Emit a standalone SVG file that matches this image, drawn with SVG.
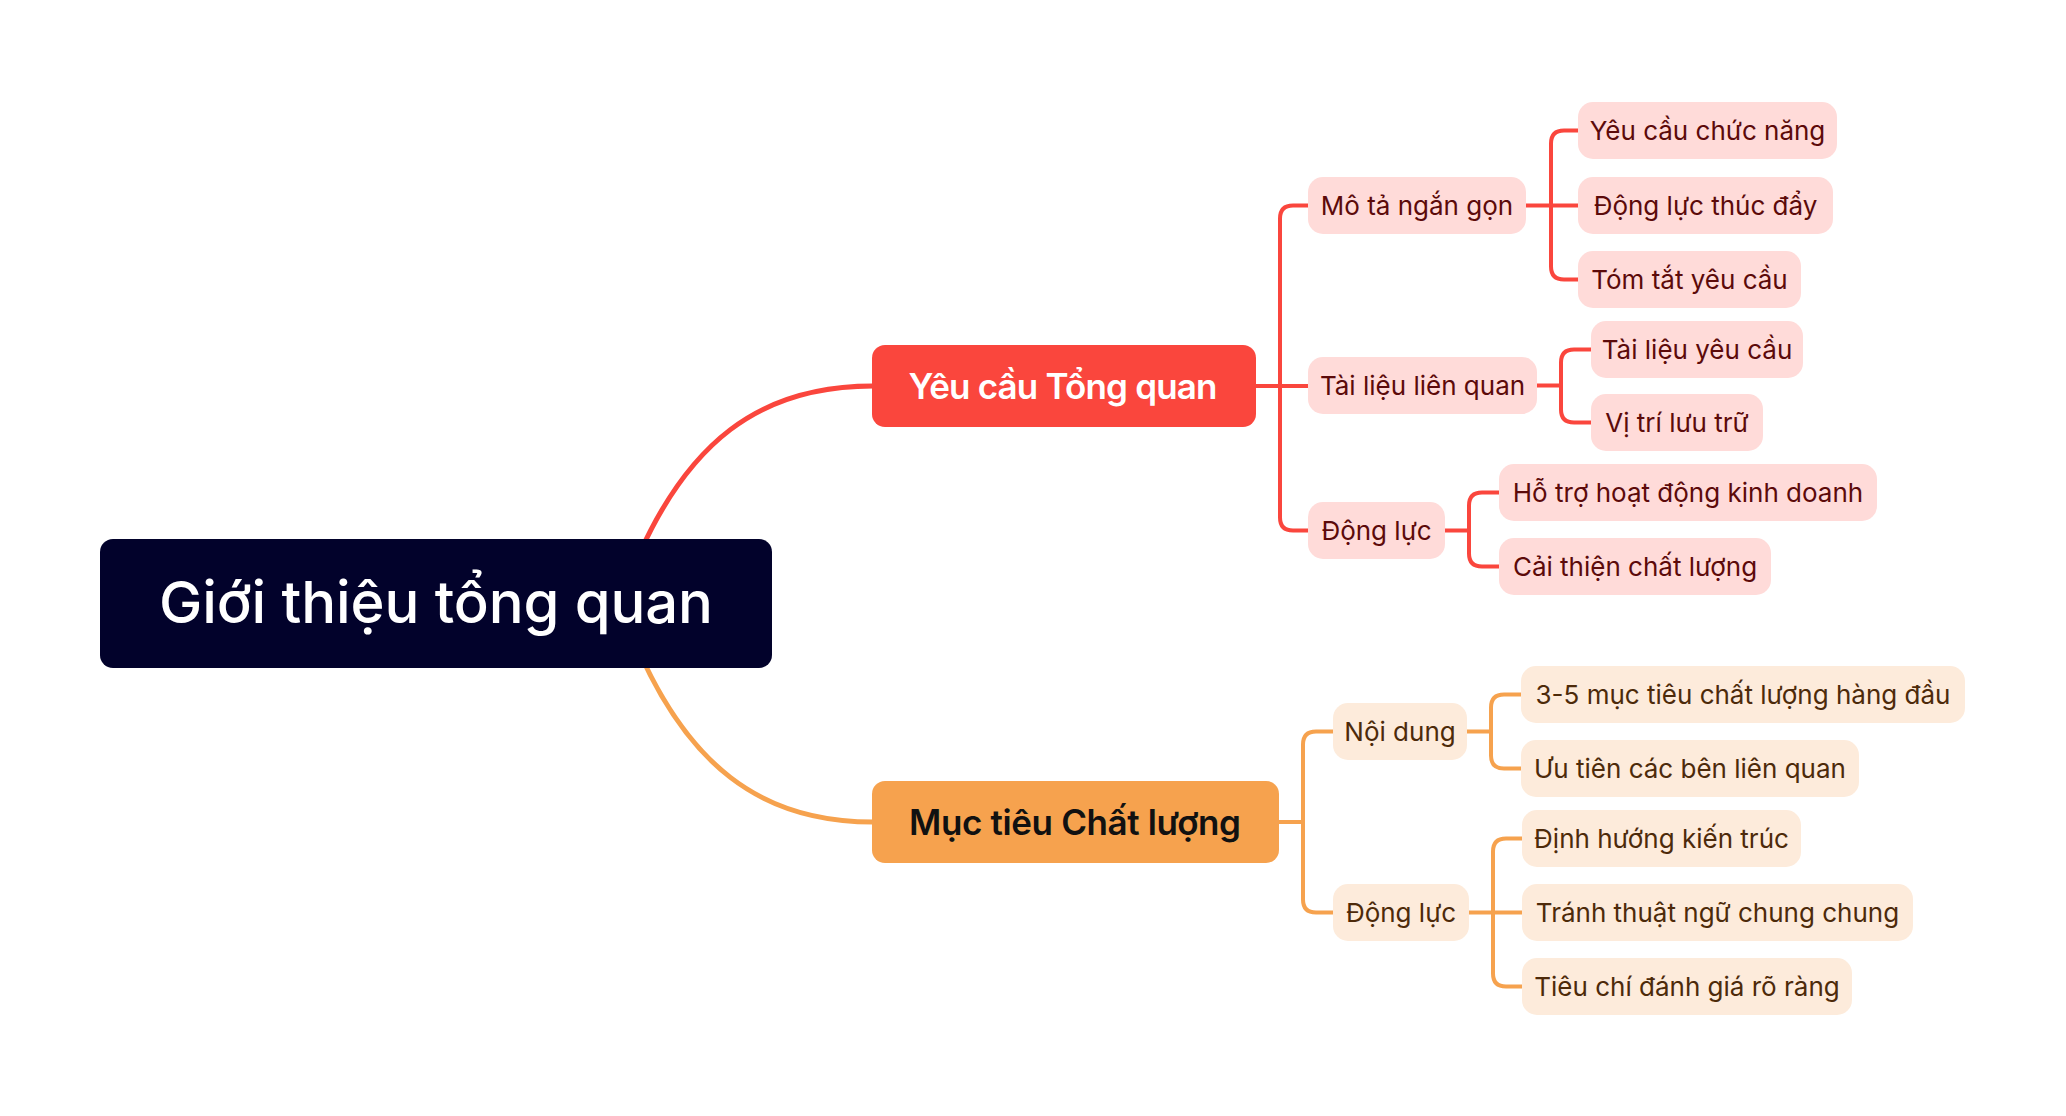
<svg xmlns="http://www.w3.org/2000/svg" width="2066" height="1116" viewBox="0 0 2066 1116">
<style>
text{font-family:Inter,"Noto Sans","Liberation Sans",sans-serif;text-anchor:middle}
.root rect{fill:#02022B}
.root text{fill:#fff;font-size:58px;font-weight:500}
.m1 rect{fill:#FA463D}
.m1 text{fill:#fff;font-size:35px;font-weight:600}
.m2 rect{fill:#F6A24E}
.m2 text{fill:#111;font-size:35px;font-weight:600}
.r rect{fill:#FFDBD9}
.r text{fill:#5C0A0A;font-size:26px}
.o rect{fill:#FDEBDB}
.o text{fill:#4D2A0A;font-size:26px}
.cr{fill:none;stroke:#FA463D;stroke-width:4;stroke-linecap:round}
.co{fill:none;stroke:#F6A24E;stroke-width:4;stroke-linecap:round}
.big{stroke-width:5}
</style>
<rect width="2066" height="1116" fill="#fff"/>
<g id="connectors">
<path class="cr big" d="M620 603 C680 430 770 386 873 386"/>
<path class="co big" d="M620 603 C680 776 770 822 873 822"/>
<path class="cr" d="M1256 386 H1308"/>
<path class="cr" d="M1308 205.5 H1293 Q1280 205.5 1280 218.5 V517.5 Q1280 530.5 1293 530.5 H1308"/>
<path class="cr" d="M1526 205.5 H1578"/>
<path class="cr" d="M1578 130.5 H1564 Q1551 130.5 1551 143.5 V266.5 Q1551 279.5 1564 279.5 H1578"/>
<path class="cr" d="M1537 385.5 H1561"/>
<path class="cr" d="M1591 349.5 H1574 Q1561 349.5 1561 362.5 V409.5 Q1561 422.5 1574 422.5 H1591"/>
<path class="cr" d="M1445 530.5 H1469"/>
<path class="cr" d="M1499 492.5 H1482 Q1469 492.5 1469 505.5 V553.5 Q1469 566.5 1482 566.5 H1499"/>
<path class="co" d="M1279 822 H1303"/>
<path class="co" d="M1333 731.5 H1316 Q1303 731.5 1303 744.5 V899.5 Q1303 912.5 1316 912.5 H1333"/>
<path class="co" d="M1467 731.5 H1491"/>
<path class="co" d="M1521 694.5 H1504 Q1491 694.5 1491 707.5 V755.5 Q1491 768.5 1504 768.5 H1521"/>
<path class="co" d="M1469 912.5 H1522"/>
<path class="co" d="M1522 838.5 H1506 Q1493 838.5 1493 851.5 V973.5 Q1493 986.5 1506 986.5 H1522"/>
</g>
<g id="root" class="root"><rect x="100" y="539" width="672" height="129" rx="13"/><text x="436" y="623" textLength="554">Giới thiệu tổng quan</text></g>
<g id="yeu-cau-tong-quan" class="m1"><rect x="872" y="345" width="384" height="82" rx="13"/><text x="1063" y="399" textLength="309">Yêu cầu Tổng quan</text></g>
<g id="muc-tieu-chat-luong" class="m2"><rect x="872" y="781" width="407" height="82" rx="13"/><text x="1075" y="835" textLength="332">Mục tiêu Chất lượng</text></g>
<g id="mo-ta" class="r"><rect x="1308" y="177" width="218" height="57" rx="15"/><text x="1417" y="215">Mô tả ngắn gọn</text></g>
<g id="tai-lieu" class="r"><rect x="1308" y="357" width="229" height="57" rx="15"/><text x="1422.5" y="395">Tài liệu liên quan</text></g>
<g id="dong-luc-1" class="r"><rect x="1308" y="502" width="137" height="57" rx="15"/><text x="1376.5" y="540">Động lực</text></g>
<g id="yeu-cau-chuc-nang" class="r"><rect x="1578" y="102" width="259" height="57" rx="15"/><text x="1707.5" y="140">Yêu cầu chức năng</text></g>
<g id="dong-luc-thuc-day" class="r"><rect x="1578" y="177" width="255" height="57" rx="15"/><text x="1705.5" y="215">Động lực thúc đẩy</text></g>
<g id="tom-tat" class="r"><rect x="1578" y="251" width="223" height="57" rx="15"/><text x="1689.5" y="289">Tóm tắt yêu cầu</text></g>
<g id="tai-lieu-yeu-cau" class="r"><rect x="1591" y="321" width="212" height="57" rx="15"/><text x="1697" y="359">Tài liệu yêu cầu</text></g>
<g id="vi-tri" class="r"><rect x="1591" y="394" width="172" height="57" rx="15"/><text x="1677" y="432">Vị trí lưu trữ</text></g>
<g id="ho-tro" class="r"><rect x="1499" y="464" width="378" height="57" rx="15"/><text x="1688" y="502">Hỗ trợ hoạt động kinh doanh</text></g>
<g id="cai-thien" class="r"><rect x="1499" y="538" width="272" height="57" rx="15"/><text x="1635" y="576">Cải thiện chất lượng</text></g>
<g id="noi-dung" class="o"><rect x="1333" y="703" width="134" height="57" rx="15"/><text x="1400" y="741">Nội dung</text></g>
<g id="dong-luc-2" class="o"><rect x="1333" y="884" width="136" height="57" rx="15"/><text x="1401" y="922">Động lực</text></g>
<g id="muc-tieu-hang-dau" class="o"><rect x="1521" y="666" width="444" height="57" rx="15"/><text x="1743" y="704">3-5 mục tiêu chất lượng hàng đầu</text></g>
<g id="uu-tien" class="o"><rect x="1521" y="740" width="338" height="57" rx="15"/><text x="1690" y="778">Ưu tiên các bên liên quan</text></g>
<g id="dinh-huong" class="o"><rect x="1522" y="810" width="279" height="57" rx="15"/><text x="1661.5" y="848">Định hướng kiến trúc</text></g>
<g id="tranh-thuat-ngu" class="o"><rect x="1522" y="884" width="391" height="57" rx="15"/><text x="1717.5" y="922">Tránh thuật ngữ chung chung</text></g>
<g id="tieu-chi" class="o"><rect x="1522" y="958" width="330" height="57" rx="15"/><text x="1687" y="996">Tiêu chí đánh giá rõ ràng</text></g>
</svg>
